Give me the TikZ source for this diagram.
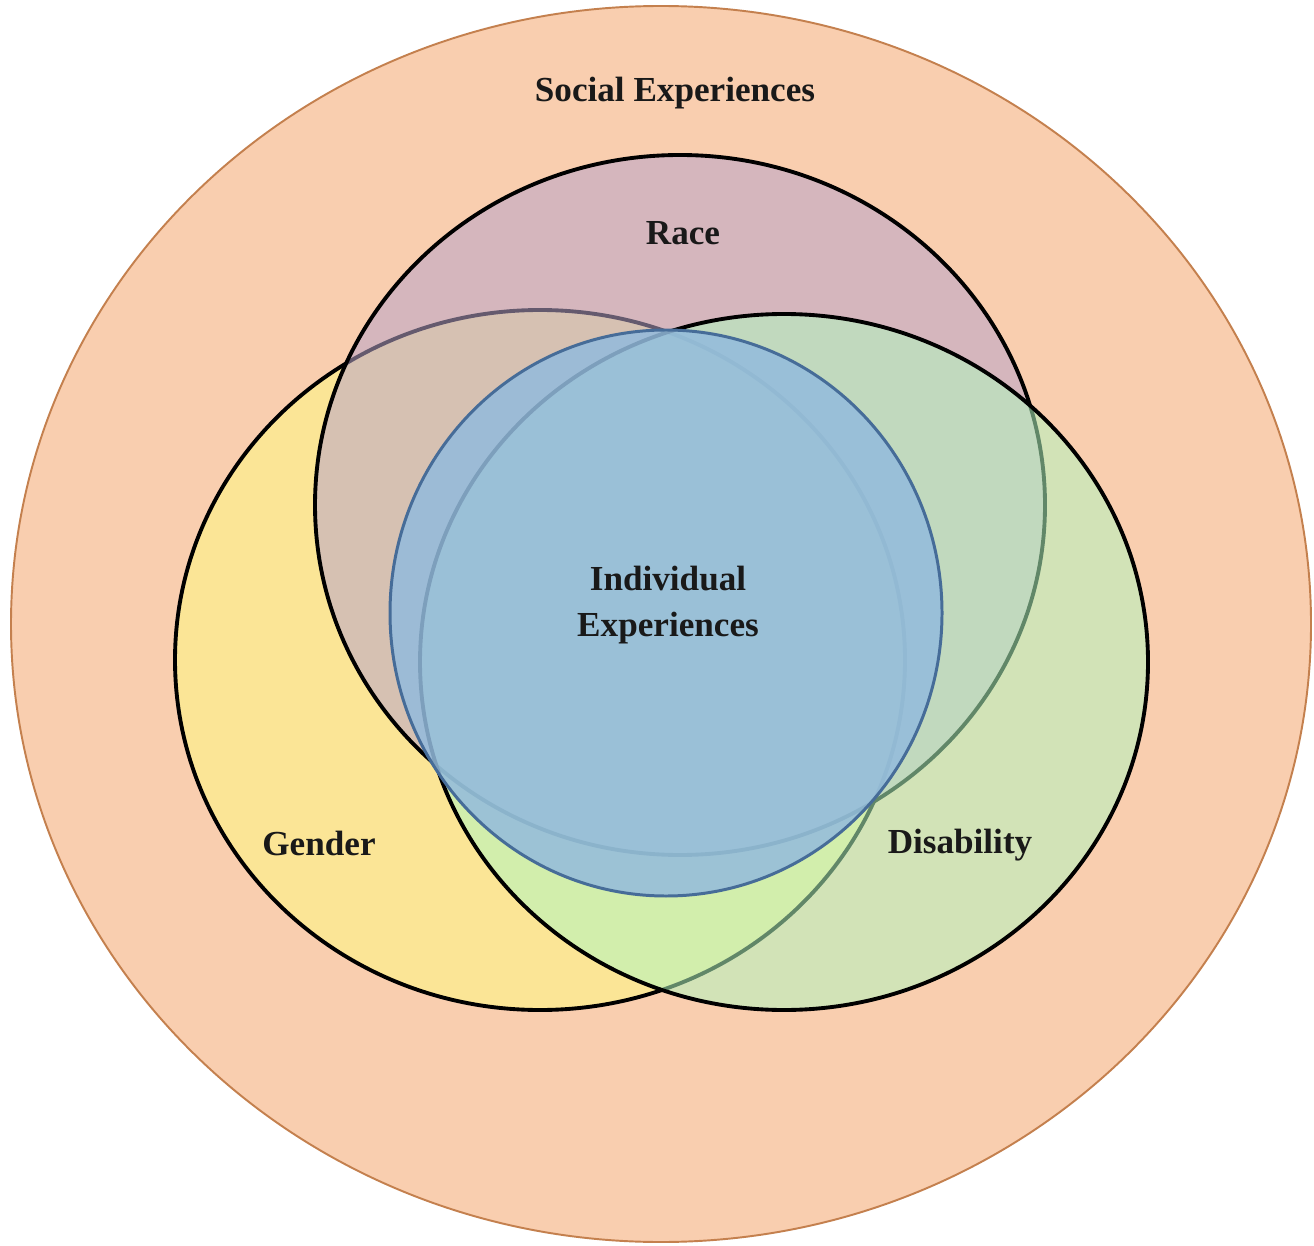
\documentclass[tikz,border=0pt]{standalone}
\usepackage{fontspec}
\setmainfont{Liberation Serif}
\definecolor{peach}{RGB}{249,206,175}
\definecolor{peachline}{RGB}{196,128,78}
\definecolor{racec}{RGB}{185,164,202}
\definecolor{genderc}{RGB}{253,238,142}
\definecolor{disc}{RGB}{178,246,191}
\definecolor{bluec}{RGB}{147,187,221}
\definecolor{blueline}{RGB}{70,108,152}
\tikzset{
  setc/.style={draw=black, line width=2.2pt},
  lbl/.style={font=\fontsize{20}{26}\selectfont\bfseries, text=black!90, align=center, inner sep=1pt}
}
\begin{document}
\begin{tikzpicture}
\useasboundingbox (0,0) rectangle (26.28,24.9);
\fill[white] (0,0) rectangle (26.28,24.9);
% outer social circle
\draw[fill=peach, draw=peachline, line width=1.1pt] (13.22,12.42) ellipse [x radius=13.0cm, y radius=12.36cm];
% gender
\draw[setc, fill=genderc, fill opacity=0.75] (10.8,11.7) ellipse [x radius=7.3cm, y radius=7.0cm];
% race
\draw[setc, fill=racec, fill opacity=0.55] (13.6,14.8) ellipse [x radius=7.3cm, y radius=7.0cm];
% disability
\draw[setc, fill=disc, fill opacity=0.55] (15.68,11.66) ellipse [x radius=7.28cm, y radius=6.96cm];
% individual
\draw[fill=bluec, fill opacity=0.85, draw=blueline, line width=1.7pt] (13.32,12.64) ellipse [x radius=5.52cm, y radius=5.66cm];
% labels
\node[lbl] (social) at (13.5,23.04) {Social Experiences};
\node[lbl] (race) at (13.66,20.24) {Race};
\node[lbl] (indiv) at (13.36,12.8) {Individual\\Experiences};
\node[lbl] (gender) at (6.38,8.04) {Gender};
\node[lbl] (disab) at (19.2,8.0) {Disability};
\end{tikzpicture}
\end{document}
